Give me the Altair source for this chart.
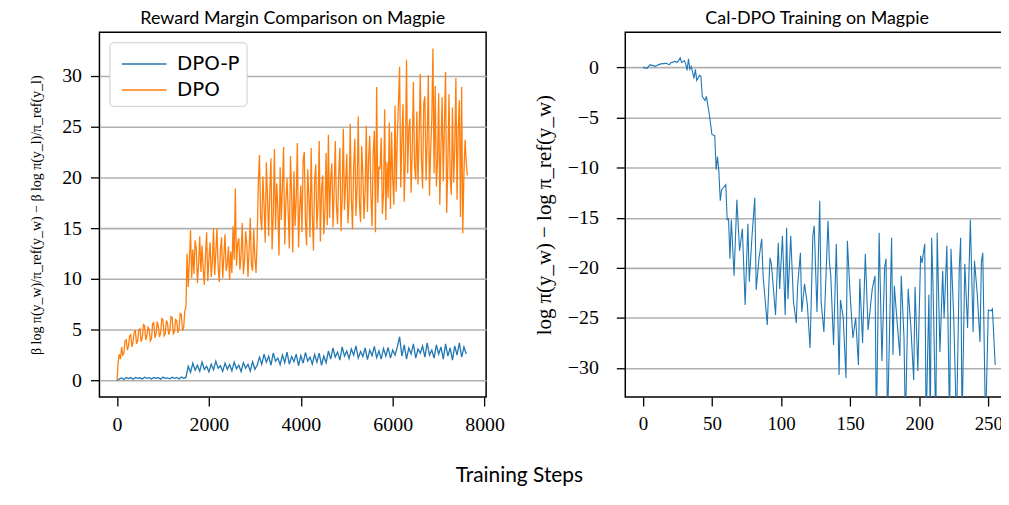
import altair as alt
import pandas as pd

# ---------------- Left panel: reward margin ----------------
# DPO-P read every 50 training steps
DPO_P_STEP = 50
dpo_p = [
    0.0, 0.15, 0.25, 0.1, 0.3, 0.18, 0.28, 0.12, 0.3, 0.2, 0.26, 0.14, 0.32, 0.2, 0.27, 0.15,
    0.3, 0.22, 0.28, 0.13, 0.33, 0.2, 0.26, 0.16, 0.31, 0.21, 0.29, 0.14, 0.34, 0.22, 0.3,
    1.4, 0.8, 1.7, 1.0, 1.5, 0.9, 1.8, 1.1, 1.4, 0.85, 1.6, 1.05, 1.9, 1.2, 1.45, 0.9,
    1.7, 1.1, 1.55, 0.95, 1.8, 1.15, 1.5, 0.88, 1.75, 1.2, 1.6, 0.92, 1.85, 1.1, 1.5,
    2.3, 1.6, 2.6, 1.8, 2.4, 1.5, 2.7, 1.9, 2.2, 1.55, 2.5, 1.75, 2.8, 1.6, 2.35,
    1.85, 2.6, 1.45, 2.45, 1.7, 2.75, 1.9, 2.3, 1.6, 2.55, 1.8, 2.7, 1.5, 2.4, 1.75,
    2.9, 2.1, 3.2, 2.3, 2.8, 2.0, 3.3, 2.4, 2.9, 2.15, 3.1, 2.5, 3.4, 2.2, 2.85, 2.35,
    3.2, 2.05, 3.0, 2.45, 3.35, 2.25, 2.9, 2.1, 3.15, 2.4, 3.25, 2.2, 3.0, 2.5, 3.3,
    4.3, 2.4, 3.5, 2.1, 3.2, 2.6, 3.6, 2.2, 3.1, 2.7, 3.4, 2.3, 3.7, 2.5, 3.0,
    2.2, 3.5, 2.6, 3.3, 2.1, 3.6, 2.4, 3.2, 2.0, 3.4, 2.5, 3.7, 2.3, 3.3, 2.6,
]
# DPO read every 25 training steps
DPO_STEP = 25
dpo = [
    # 0 .. 1500
    0.0, 1.8, 2.6, 2.1, 3.3, 2.5, 2.7, 3.9, 4.0, 3.0, 3.4, 4.4, 4.5, 3.3, 3.8, 4.8,
    4.9, 3.6, 3.9, 5.0, 5.1, 3.8, 4.2, 5.5, 5.4, 4.0, 4.4, 5.3, 5.0, 3.9, 4.1, 5.6,
    5.7, 4.2, 4.6, 5.8, 5.3, 4.3, 4.7, 6.1, 6.0, 4.4, 4.6, 5.9, 5.6, 4.5, 4.9, 6.3,
    6.2, 4.6, 4.8, 6.0, 5.9, 4.7, 5.1, 6.6, 6.5, 4.9, 5.2, 6.8, 7.3,
    # 1525 .. 3050
    12.5, 9.2, 11.8, 14.8, 10.1, 12.9, 10.5, 13.8, 13.0, 9.6, 11.4, 14.2, 10.7, 13.3, 11.0, 9.4,
    12.3, 14.6, 9.8, 12.0, 13.6, 10.2, 11.7, 15.0, 10.4, 12.6, 15.0, 11.2, 9.7, 12.8, 14.1, 10.1,
    12.2, 14.4, 10.8, 11.5, 13.2, 9.9, 12.7, 10.6, 15.2, 11.9, 18.9, 11.3, 13.5, 14.0, 10.9, 12.4,
    15.5, 10.5, 11.8, 14.7, 13.4, 10.2, 12.9, 16.0, 11.4, 10.8, 14.9, 12.1, 10.6, 13.8,
    # 3075 .. 4575
    19.5, 22.2, 16.1, 14.8, 20.1, 17.3, 13.6, 21.5, 18.0, 14.2, 18.7, 21.9, 12.9, 16.4, 22.8, 14.9,
    19.4, 17.0, 12.3, 21.0, 15.8, 19.1, 23.0, 13.4, 17.6, 19.9, 16.6, 13.0, 22.1, 18.4, 12.6, 20.6,
    15.2, 17.9, 23.4, 13.1, 16.9, 19.2, 14.6, 21.7, 22.5, 15.9, 13.3, 20.8, 18.2, 14.1, 22.9, 16.3,
    12.8, 19.6, 21.3, 15.0, 17.4, 23.6, 13.7, 18.8, 20.2, 14.4, 16.7, 22.4, 15.3,
    # 4600 .. 6100
    24.2, 16.0, 19.8, 21.4, 15.1, 18.6, 23.6, 17.2, 15.4, 20.5, 22.9, 14.7, 18.1, 24.8, 16.8, 19.5,
    22.3, 15.5, 17.7, 25.3, 17.9, 14.9, 21.1, 23.8, 16.2, 19.0, 26.0, 17.4, 15.6, 23.1, 20.4, 15.9,
    18.7, 25.1, 16.6, 21.8, 24.1, 18.3, 15.2, 22.4, 24.6, 14.6, 28.9, 17.5, 21.0, 20.9, 23.9, 16.4,
    18.5, 26.7, 15.8, 21.5, 18.0, 25.4, 16.9, 24.5, 19.9, 17.3, 27.1, 18.6, 24.0,
    # 6125 .. 7625
    27.4, 30.9, 19.0, 23.8, 27.2, 17.6, 21.9, 31.6, 20.4, 24.7, 25.8, 18.5, 22.6, 29.4, 21.2, 19.8,
    26.5, 19.3, 24.1, 30.2, 21.8, 18.9, 27.3, 28.0, 19.7, 23.5, 30.1, 18.2, 22.7, 25.6, 32.7, 20.4,
    29.0, 19.1, 21.6, 28.3, 17.3, 23.2, 27.9, 19.6, 25.2, 30.4, 16.5, 21.4, 28.2, 20.1, 18.3, 26.9,
    19.5, 22.8, 29.8, 17.8, 24.6, 27.6, 16.1, 28.9, 14.5, 20.5, 23.7, 21.5, 20.2,
]
dpo_p_steps = [i * DPO_P_STEP for i in range(len(dpo_p))]
dpo_steps = [i * DPO_STEP for i in range(len(dpo))]

# ---------------- Right panel: Cal-DPO log-prob of chosen ----------------
right_steps = [
    0, 3, 5, 7, 9, 11, 13, 17, 19, 20, 23, 25, 27, 28, 30, 31, 32, 33, 34, 35,
    37, 38, 39, 41, 42, 43, 45, 46, 48, 50, 52, 53, 54, 55, 56, 57, 60, 61, 62, 63,
    64, 66, 68, 70, 72, 74, 76, 77, 79, 81, 82, 84, 86, 87, 90, 92, 93, 96, 98, 99,
    101, 103, 104, 105, 107, 109, 111, 112, 114, 115, 117, 119, 121, 123, 124, 126, 128, 129, 131, 134,
    135, 136, 138, 140, 142, 143, 145, 147, 148, 150, 152, 154, 156, 157, 159, 161, 163, 166, 168, 169,
    171, 173, 175, 176, 177, 180, 181, 182, 184, 186, 187, 189, 190, 192, 194, 196, 197, 199, 201, 202,
    204, 205, 207, 208, 209, 210, 212, 213, 215, 217, 218, 220, 222, 223, 225, 227, 229, 230, 231, 233,
    235, 237, 239, 240, 242, 244, 245, 246, 248, 250, 252, 253, 255,
]
right_vals = [
    0.0, -0.1, 0.25, 0.2, 0.1, 0.25, 0.35, 0.4, 0.25, 0.45, 0.6, 0.5, 0.95, 0.5, 0.65, 0.35, -0.3, 0.85, -0.2, 0.1,
    -1.1, -0.2, -1.3, -0.8, -0.9, -2.9, -3.3, -2.9, -4.6, -6.7, -6.8, -10.2, -8.9, -10.4, -13.3, -12.2, -11.7, -15.2, -15.1, -19.1,
    -15.2, -20.8, -13.2, -18.3, -16.1, -23.7, -15.6, -21.4, -16.8, -13.0, -22.2, -19.1, -17.1, -20.8, -25.7, -19.0, -19.6, -24.7, -17.5, -22.1,
    -16.8, -24.7, -16.0, -23.1, -16.8, -23.4, -25.5, -21.8, -18.5, -24.4, -21.6, -23.6, -28.0, -16.8, -15.8, -24.4, -13.3, -23.4, -26.4, -15.3,
    -19.4, -20.8, -27.7, -17.6, -30.7, -23.2, -25.0, -31.0, -17.3, -22.7, -27.0, -25.0, -29.7, -21.1, -27.5, -18.6, -26.2, -22.1, -20.8, -36.0,
    -16.5, -29.3, -19.9, -19.1, -36.0, -17.0, -28.7, -21.8, -25.4, -28.8, -20.8, -27.0, -36.0, -22.1, -26.0, -31.2, -21.9, -30.3, -18.8, -19.5,
    -17.6, -36.0, -22.7, -36.0, -17.0, -21.8, -36.0, -16.5, -28.4, -20.3, -25.0, -17.8, -36.0, -18.1, -25.0, -36.0, -19.9, -17.0, -36.0, -19.6,
    -26.0, -15.2, -26.4, -19.3, -22.6, -27.4, -19.4, -18.5, -36.0, -24.2, -24.3, -24.1, -29.7,
]

series_names = ["DPO-P", "DPO"]
series_colors = ["#1f77b4", "#ff7f0e"]

left_df = pd.DataFrame({
    "step": dpo_p_steps + dpo_steps,
    "value": dpo_p + dpo,
    "series": [series_names[0]] * len(dpo_p) + [series_names[1]] * len(dpo),
})
right_df = pd.DataFrame({"step": right_steps, "value": right_vals})

TICK_FONT = "Liberation Serif"
TITLE_FONT = "Lato"

left = alt.Chart(left_df).mark_line(strokeWidth=1.3, clip=True).encode(
    x=alt.X("step:Q",
            scale=alt.Scale(domain=[-382.5, 8032.5], nice=False, zero=False),
            axis=alt.Axis(values=[0, 2000, 4000, 6000, 8000], format="d", title=None,
                          grid=False, labelPadding=9)),
    y=alt.Y("value:Q",
            scale=alt.Scale(domain=[-1.64, 34.3], nice=False, zero=False),
            axis=alt.Axis(values=[0, 5, 10, 15, 20, 25, 30], format="d", grid=True,
                          title="β log π(y_w)/π_ref(y_w) − β log π(y_l)/π_ref(y_l)",
                          titleFontSize=14, titlePadding=18, labelPadding=9)),
    color=alt.Color("series:N",
                    scale=alt.Scale(domain=series_names, range=series_colors),
                    legend=alt.Legend(title=None, orient="top-left", offset=10,
                                      symbolType="M-1.5,0H1.5", symbolSize=900,
                                      symbolStrokeWidth=1.5, symbolOffset=13,
                                      labelFont="DejaVu Sans",
                                      labelFontSize=20, labelColor="black",
                                      strokeColor="#cccccc", fillColor="white",
                                      cornerRadius=4, padding=6, rowPadding=0,
                                      labelOffset=17)),
).properties(
    width=389, height=367,
    title=alt.TitleParams("Reward Margin Comparison on Magpie", font=TITLE_FONT,
                          fontSize=18, fontWeight="normal", color="black", offset=4),
)

RIGHT_W = 386
right = alt.Chart(right_df).mark_line(strokeWidth=1.1, clip=True, color="#1f77b4").encode(
    x=alt.X("step:Q",
            scale=alt.Scale(domain=[-12.75, -12.75 + RIGHT_W / 1.39], nice=False, zero=False),
            axis=alt.Axis(values=[0, 50, 100, 150, 200, 250], format="d", title=None,
                          grid=False, labelPadding=9, labelFontSize=19)),
    y=alt.Y("value:Q",
            scale=alt.Scale(domain=[-32.9, 3.5], nice=False, zero=False),
            axis=alt.Axis(values=[0, -5, -10, -15, -20, -25, -30], format="d", grid=True,
                          title="log π(y_w) − log π_ref(y_w)",
                          titleFontSize=21, titlePadding=13, labelPadding=18)),
).properties(
    width=RIGHT_W, height=367,
    title=alt.TitleParams("Cal-DPO Training on Magpie", font=TITLE_FONT,
                          fontSize=18, fontWeight="normal", color="black", offset=4),
)

chart = alt.hconcat(left, right, spacing=26).properties(
    title=alt.TitleParams("Training Steps", orient="bottom", anchor="middle",
                          font=TITLE_FONT, fontSize=21, fontWeight="normal",
                          color="black", offset=30),
    padding={"left": 21, "top": 0, "right": -9, "bottom": 0},
).configure_view(
    stroke="black", strokeWidth=1.5
).configure_axis(
    domain=False, tickColor="black", tickWidth=1.3, tickSize=9,
    labelFont=TICK_FONT, labelFontSize=20, labelColor="black",
    gridColor="#b0b0b0", gridWidth=1.6,
    titleFont=TICK_FONT, titleFontWeight="normal", titleColor="black",
)

chart.save("out.html", embed_options={"renderer": "svg", "actions": False})
